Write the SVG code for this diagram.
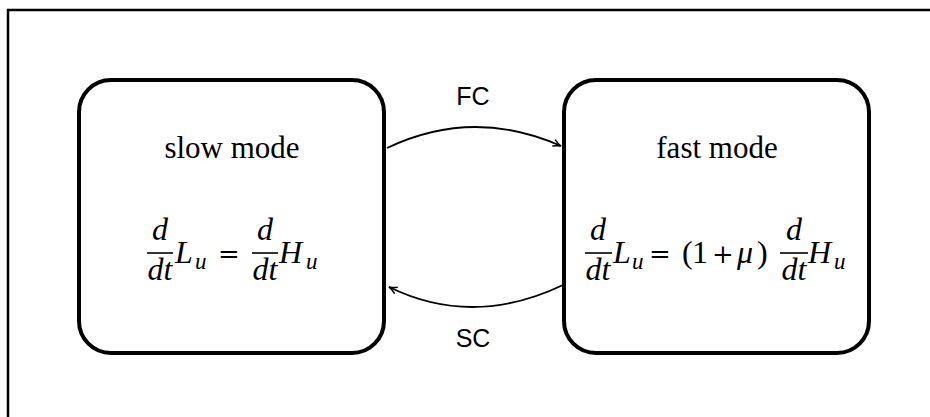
<svg xmlns="http://www.w3.org/2000/svg" width="930" height="417" viewBox="0 0 930 417">
<style>
.box{fill:#fff;stroke:#000;stroke-width:4}
.title{font-family:"Liberation Serif",serif;font-size:31px;text-anchor:middle;fill:#000}
.mi{font-family:"Liberation Serif",serif;font-style:italic;font-size:32px;fill:#000}
.mr{font-family:"Liberation Serif",serif;font-size:32px;fill:#000}
.op{font-family:"DejaVu Serif",serif;font-size:26px;fill:#000}
.sub{font-family:"Liberation Serif",serif;font-style:italic;font-size:23px;fill:#000}
.bar{stroke:#000;stroke-width:1.6}
.lbl{font-family:"Liberation Sans",Arial,sans-serif;font-size:25px;text-anchor:middle;fill:#000}
.conn{fill:none;stroke:#000;stroke-width:1.8}
</style>
<defs>
<marker id="arr" markerWidth="12" markerHeight="10" refX="9" refY="5" orient="auto" markerUnits="userSpaceOnUse">
<path d="M1,1.5 Q5,4 9,5 Q5,6 1,8.5" fill="none" stroke="#000" stroke-width="1.5"/>
</marker>
</defs>
<rect width="930" height="417" fill="#fff"/>
<path d="M8,417 V10 H930" fill="none" stroke="#000" stroke-width="2.5"/>
<g id="connectors">
<path class="conn" d="M387,148 Q473,107 561,146" marker-end="url(#arr)"/>
<path class="conn" d="M563,285 Q473,328 389,287" marker-end="url(#arr)"/>
<text class="lbl" x="473" y="105">FC</text>
<text class="lbl" x="473" y="347">SC</text>
</g>
<g id="slow">
<rect class="box" x="79" y="80" width="305" height="273" rx="32"/>
<text class="title" x="232" y="158">slow mode</text>
<text class="mi" x="160" y="240" text-anchor="middle">d</text>
<line class="bar" x1="147" y1="253" x2="173" y2="253"/>
<text class="mi" x="160" y="280" text-anchor="middle">dt</text>
<text class="mi" x="175" y="263">L</text>
<text class="sub" x="195" y="269">u</text>
<text class="op" x="218" y="263">=</text>
<text class="mi" x="265" y="240" text-anchor="middle">d</text>
<line class="bar" x1="252" y1="253" x2="278" y2="253"/>
<text class="mi" x="265" y="280" text-anchor="middle">dt</text>
<text class="mi" x="279" y="263">H</text>
<text class="sub" x="306" y="269">u</text>
</g>
<g id="fast">
<rect class="box" x="564" y="80" width="305" height="273" rx="32"/>
<text class="title" x="717" y="158">fast mode</text>
<text class="mi" x="598" y="240" text-anchor="middle">d</text>
<line class="bar" x1="585" y1="253" x2="612" y2="253"/>
<text class="mi" x="598" y="280" text-anchor="middle">dt</text>
<text class="mi" x="613" y="263">L</text>
<text class="sub" x="632" y="269">u</text>
<text class="op" x="649" y="263">=</text>
<text class="mr" x="682" y="263">(</text>
<text class="mr" x="692" y="263">1</text>
<text class="op" x="712" y="263">+</text>
<text class="mi" x="737" y="263">μ</text>
<text class="mr" x="757" y="263">)</text>
<text class="mi" x="794" y="240" text-anchor="middle">d</text>
<line class="bar" x1="780" y1="253" x2="808" y2="253"/>
<text class="mi" x="794" y="280" text-anchor="middle">dt</text>
<text class="mi" x="808" y="263">H</text>
<text class="sub" x="834" y="269">u</text>
</g>
</svg>
